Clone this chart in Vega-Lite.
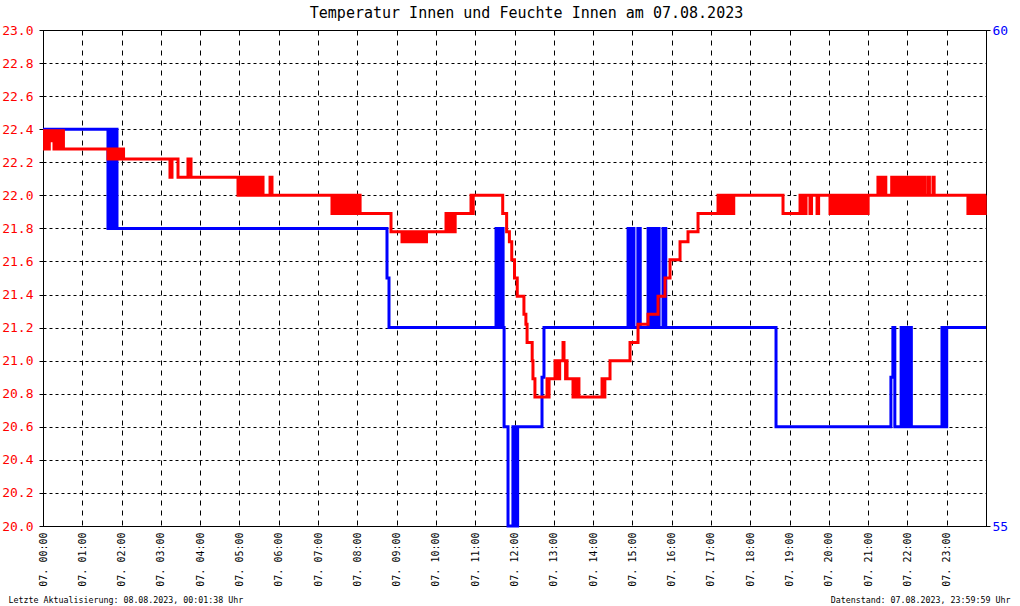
{
  "$schema": "https://vega.github.io/schema/vega-lite/v6.json",
  "width": 943,
  "height": 496,
  "autosize": {"type": "none"},
  "padding": {"left": 43, "top": 30, "right": 34, "bottom": 80},
  "background": "white",
  "config": {"view": {"stroke": "black", "strokeWidth": 1}, "font": "DejaVu Sans Mono"},
  "title": {"text": "Temperatur Innen und Feuchte Innen am 07.08.2023", "font": "DejaVu Sans Mono", "fontSize": 15, "fontWeight": "normal", "color": "black", "anchor": "middle", "frame": "group", "offset": 3, "dx": 12},
  "datasets": {
    "temp": [
      {"h":0,"v":22.39},{"h":0.04,"v":22.28},{"h":0.08,"v":22.39},{"h":0.12,"v":22.28},{"h":0.16,"v":22.39},{"h":0.2,"v":22.33},{"h":0.24,"v":22.39},{"h":0.28,"v":22.28},{"h":0.32,"v":22.39},{"h":0.36,"v":22.28},{"h":0.4,"v":22.39},{"h":0.44,"v":22.28},{"h":0.48,"v":22.39},{"h":0.52,"v":22.28},
      {"h":1.654,"v":22.22},{"h":1.69,"v":22.28},{"h":1.73,"v":22.22},{"h":1.77,"v":22.28},{"h":1.81,"v":22.22},{"h":1.85,"v":22.28},{"h":1.89,"v":22.22},{"h":1.93,"v":22.28},{"h":1.97,"v":22.22},{"h":2.01,"v":22.28},{"h":2.05,"v":22.22},
      {"h":3.232,"v":22.11},{"h":3.283,"v":22.22},{"h":3.436,"v":22.11},{"h":3.69,"v":22.22},{"h":3.767,"v":22.11},
      {"h":4.963,"v":22.0},{"h":5.0,"v":22.11},{"h":5.04,"v":22.0},{"h":5.08,"v":22.11},{"h":5.12,"v":22.0},{"h":5.16,"v":22.11},{"h":5.2,"v":22.0},{"h":5.24,"v":22.11},{"h":5.28,"v":22.0},{"h":5.32,"v":22.11},{"h":5.36,"v":22.0},{"h":5.4,"v":22.11},{"h":5.44,"v":22.0},{"h":5.48,"v":22.11},{"h":5.52,"v":22.0},{"h":5.56,"v":22.11},{"h":5.6,"v":22.0},{"h":5.778,"v":22.11},{"h":5.828,"v":22.0},
      {"h":7.355,"v":21.89},{"h":7.39,"v":22.0},{"h":7.43,"v":21.89},{"h":7.47,"v":22.0},{"h":7.51,"v":21.89},{"h":7.55,"v":22.0},{"h":7.59,"v":21.89},{"h":7.63,"v":22.0},{"h":7.67,"v":21.89},{"h":7.71,"v":22.0},{"h":7.75,"v":21.89},{"h":7.79,"v":22.0},{"h":7.83,"v":21.89},{"h":7.87,"v":22.0},{"h":7.91,"v":21.89},{"h":7.95,"v":22.0},{"h":7.99,"v":21.89},{"h":8.03,"v":22.0},{"h":8.07,"v":21.89},
      {"h":8.857,"v":21.78},
      {"h":9.137,"v":21.72},{"h":9.2,"v":21.78},{"h":9.24,"v":21.72},{"h":9.3,"v":21.78},{"h":9.34,"v":21.72},{"h":9.38,"v":21.78},{"h":9.45,"v":21.72},{"h":9.49,"v":21.78},{"h":9.53,"v":21.72},{"h":9.57,"v":21.78},{"h":9.64,"v":21.72},{"h":9.68,"v":21.78},{"h":9.72,"v":21.72},{"h":9.76,"v":21.78},
      {"h":10.257,"v":21.89},{"h":10.29,"v":21.78},{"h":10.33,"v":21.89},{"h":10.37,"v":21.78},{"h":10.41,"v":21.89},{"h":10.45,"v":21.78},{"h":10.49,"v":21.89},
      {"h":10.893,"v":22.0},{"h":10.92,"v":21.89},{"h":10.95,"v":22.0},
      {"h":11.7,"v":21.89},{"h":11.8,"v":21.78},{"h":11.87,"v":21.72},{"h":11.93,"v":21.61},{"h":12.0,"v":21.5},{"h":12.07,"v":21.39},{"h":12.24,"v":21.28},{"h":12.29,"v":21.22},{"h":12.32,"v":21.11},{"h":12.45,"v":21.0},{"h":12.47,"v":20.89},{"h":12.52,"v":20.78},
      {"h":12.828,"v":20.89},{"h":12.85,"v":20.78},{"h":12.88,"v":20.89},
      {"h":13.031,"v":21.0},{"h":13.06,"v":20.89},{"h":13.09,"v":21.0},{"h":13.12,"v":20.89},{"h":13.15,"v":21.0},{"h":13.235,"v":21.11},{"h":13.26,"v":21.0},{"h":13.3,"v":20.89},{"h":13.32,"v":21.0},{"h":13.337,"v":20.89},
      {"h":13.489,"v":20.78},{"h":13.52,"v":20.89},{"h":13.56,"v":20.78},{"h":13.6,"v":20.89},{"h":13.64,"v":20.78},
      {"h":14.228,"v":20.89},{"h":14.26,"v":20.78},{"h":14.3,"v":20.89},
      {"h":14.431,"v":21.0},{"h":14.94,"v":21.11},{"h":15.144,"v":21.22},{"h":15.398,"v":21.28},{"h":15.653,"v":21.39},{"h":15.831,"v":21.5},{"h":15.958,"v":21.61},{"h":16.213,"v":21.72},{"h":16.416,"v":21.78},{"h":16.671,"v":21.89},
      {"h":17.18,"v":22.0},{"h":17.22,"v":21.89},{"h":17.26,"v":22.0},{"h":17.3,"v":21.89},{"h":17.34,"v":22.0},{"h":17.38,"v":21.89},{"h":17.42,"v":22.0},{"h":17.46,"v":21.89},{"h":17.5,"v":22.0},{"h":17.54,"v":21.89},{"h":17.58,"v":22.0},
      {"h":18.834,"v":21.89},
      {"h":19.267,"v":22.0},{"h":19.3,"v":21.89},{"h":19.34,"v":22.0},{"h":19.38,"v":21.89},{"h":19.42,"v":22.0},{"h":19.52,"v":21.89},{"h":19.56,"v":22.0},{"h":19.7,"v":21.89},{"h":19.74,"v":22.0},
      {"h":20.03,"v":21.89},{"h":20.07,"v":22.0},{"h":20.11,"v":21.89},{"h":20.15,"v":22.0},{"h":20.19,"v":21.89},{"h":20.23,"v":22.0},{"h":20.27,"v":21.89},{"h":20.31,"v":22.0},{"h":20.35,"v":21.89},{"h":20.39,"v":22.0},{"h":20.43,"v":21.89},{"h":20.47,"v":22.0},{"h":20.51,"v":21.89},{"h":20.55,"v":22.0},{"h":20.59,"v":21.89},{"h":20.63,"v":22.0},{"h":20.67,"v":21.89},{"h":20.71,"v":22.0},{"h":20.75,"v":21.89},{"h":20.79,"v":22.0},{"h":20.83,"v":21.89},{"h":20.87,"v":22.0},{"h":20.91,"v":21.89},{"h":20.95,"v":22.0},{"h":20.98,"v":21.89},{"h":21.0,"v":22.0},
      {"h":21.25,"v":22.11},{"h":21.29,"v":22.0},{"h":21.33,"v":22.11},{"h":21.37,"v":22.0},{"h":21.41,"v":22.11},{"h":21.45,"v":22.0},{"h":21.6,"v":22.11},{"h":21.64,"v":22.0},{"h":21.68,"v":22.11},{"h":21.72,"v":22.0},{"h":21.76,"v":22.11},{"h":21.8,"v":22.0},{"h":21.84,"v":22.11},{"h":21.88,"v":22.0},{"h":21.92,"v":22.11},{"h":21.96,"v":22.0},{"h":22.0,"v":22.11},{"h":22.04,"v":22.0},{"h":22.08,"v":22.11},{"h":22.12,"v":22.0},{"h":22.16,"v":22.11},{"h":22.2,"v":22.0},{"h":22.24,"v":22.11},{"h":22.28,"v":22.0},{"h":22.32,"v":22.11},{"h":22.35,"v":22.0},{"h":22.4,"v":22.11},{"h":22.44,"v":22.0},{"h":22.52,"v":22.11},{"h":22.56,"v":22.0},{"h":22.65,"v":22.11},{"h":22.68,"v":22.0},
      {"h":23.54,"v":21.89},{"h":23.58,"v":22.0},{"h":23.62,"v":21.89},{"h":23.66,"v":22.0},{"h":23.7,"v":21.89},{"h":23.74,"v":22.0},{"h":23.78,"v":21.89},{"h":23.82,"v":22.0},{"h":23.86,"v":21.89},{"h":23.9,"v":22.0},{"h":23.94,"v":21.89},{"h":23.98,"v":22.0},{"h":24,"v":22.0}
    ],
    "hum": [
      {"h":0,"v":59},
      {"h":1.654,"v":58},{"h":1.69,"v":59},{"h":1.72,"v":58},{"h":1.75,"v":59},{"h":1.78,"v":58},{"h":1.81,"v":59},{"h":1.84,"v":58},{"h":1.87,"v":59},{"h":1.883,"v":58},
      {"h":8.755,"v":57.5},{"h":8.806,"v":57},
      {"h":11.53,"v":58},{"h":11.56,"v":57},{"h":11.59,"v":58},{"h":11.62,"v":57},{"h":11.65,"v":58},{"h":11.68,"v":57},{"h":11.7,"v":58},{"h":11.71,"v":57},
      {"h":11.735,"v":56},{"h":11.835,"v":55},
      {"h":11.96,"v":56},{"h":11.99,"v":55},{"h":12.02,"v":56},{"h":12.05,"v":55},{"h":12.08,"v":56},
      {"h":12.7,"v":56.5},{"h":12.75,"v":57},
      {"h":14.89,"v":58},{"h":14.92,"v":57},{"h":14.95,"v":58},{"h":14.98,"v":57},{"h":15.01,"v":58},{"h":15.04,"v":57},
      {"h":15.14,"v":58},{"h":15.2,"v":57},
      {"h":15.4,"v":58},{"h":15.43,"v":57},{"h":15.46,"v":58},{"h":15.49,"v":57},{"h":15.52,"v":58},{"h":15.55,"v":57},{"h":15.58,"v":58},{"h":15.61,"v":57},{"h":15.64,"v":58},{"h":15.68,"v":57},
      {"h":15.78,"v":58},{"h":15.85,"v":57},
      {"h":18.656,"v":56},
      {"h":21.58,"v":56.5},{"h":21.63,"v":57},{"h":21.68,"v":56},
      {"h":21.84,"v":57},{"h":21.87,"v":56},{"h":21.9,"v":57},{"h":21.93,"v":56},{"h":21.96,"v":57},{"h":21.99,"v":56},{"h":22.02,"v":57},{"h":22.05,"v":56},{"h":22.08,"v":57},{"h":22.1,"v":56},
      {"h":22.88,"v":57},{"h":22.91,"v":56},{"h":22.94,"v":57},{"h":22.97,"v":56},{"h":23.0,"v":57},
      {"h":24,"v":57}
    ]
  },
  "layer": [
    {
      "data": {"name": "hum"},
      "mark": {"type": "line", "interpolate": "step-after", "color": "#0000ff", "strokeWidth": 3},
      "encoding": {
        "x": {"field": "h", "type": "quantitative", "scale": {"domain": [0, 24], "nice": false, "zero": false},
          "axis": {"values": [0,1,2,3,4,5,6,7,8,9,10,11,12,13,14,15,16,17,18,19,20,21,22,23], "labelExpr": "'07. ' + (datum.value < 10 ? '0' : '') + datum.value + ':00'", "labelAngle": 270, "labelFont": "DejaVu Sans Mono", "labelFontSize": 10, "labelColor": "black", "labelFlush": false, "labelOverlap": false, "labelPadding": 6, "ticks": false, "grid": true, "gridDash": [5, 5], "gridColor": "black", "gridOpacity": 1, "gridWidth": 1, "domainColor": "black", "title": null}},
        "y": {"field": "v", "type": "quantitative", "scale": {"domain": [55, 60], "nice": false, "zero": false},
          "axis": {"orient": "right", "values": [55, 60], "grid": false, "tickSize": 4, "tickColor": "black", "domainColor": "black", "labelColor": "#0000ff", "labelFont": "DejaVu Sans Mono", "labelFontSize": 13, "labelPadding": 2,
            "title": "Datenstand: 07.08.2023, 23:59:59 Uhr", "titleAngle": 0, "titleX": 24, "titleY": 572, "titleAlign": "right", "titleBaseline": "alphabetic", "titleFont": "DejaVu Sans Mono", "titleFontSize": 8.3, "titleFontWeight": "normal", "titleColor": "black"}}
      }
    },
    {
      "data": {"name": "temp"},
      "mark": {"type": "line", "interpolate": "step-after", "color": "#ff0000", "strokeWidth": 3},
      "encoding": {
        "x": {"field": "h", "type": "quantitative", "scale": {"domain": [0, 24], "nice": false, "zero": false},
          "axis": {"values": [0,1,2,3,4,5,6,7,8,9,10,11,12,13,14,15,16,17,18,19,20,21,22,23], "labelExpr": "'07. ' + (datum.value < 10 ? '0' : '') + datum.value + ':00'", "labelAngle": 270, "labelFont": "DejaVu Sans Mono", "labelFontSize": 10, "labelColor": "black", "labelFlush": false, "labelOverlap": false, "labelPadding": 6, "ticks": false, "grid": true, "gridDash": [5, 5], "gridColor": "black", "gridOpacity": 1, "gridWidth": 1, "domainColor": "black", "title": null}},
        "y": {"field": "v", "type": "quantitative", "scale": {"domain": [20, 23], "nice": false, "zero": false},
          "axis": {"orient": "left", "values": [20, 20.2, 20.4, 20.6, 20.8, 21, 21.2, 21.4, 21.6, 21.8, 22, 22.2, 22.4, 22.6, 22.8, 23], "format": ".1f", "grid": true, "gridDash": [3, 3], "gridColor": "black", "gridOpacity": 1, "gridWidth": 1, "tickSize": 4, "tickColor": "black", "domainColor": "black", "labelColor": "#ff0000", "labelFont": "DejaVu Sans Mono", "labelFontSize": 13, "labelPadding": 6,
            "title": "Letzte Aktualisierung: 08.08.2023, 00:01:38 Uhr", "titleAngle": 0, "titleX": -35, "titleY": 572, "titleAlign": "left", "titleBaseline": "alphabetic", "titleFont": "DejaVu Sans Mono", "titleFontSize": 8.3, "titleFontWeight": "normal", "titleColor": "black"}}
      }
    }
  ],
  "resolve": {"scale": {"y": "independent"}}
}
